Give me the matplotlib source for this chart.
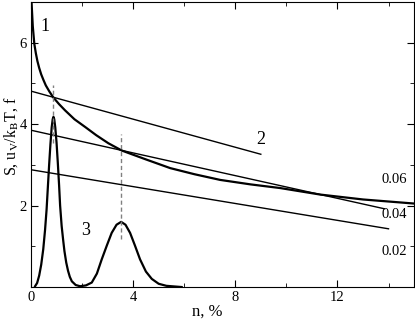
import matplotlib
matplotlib.use('Agg')
import matplotlib.pyplot as plt
from matplotlib.ticker import MultipleLocator

plt.rcParams['font.family'] = ['Liberation Serif', 'DejaVu Serif']
plt.rcParams['mathtext.fontset'] = 'stix'

# curve 1
n1 = [0.02, 0.07, 0.13, 0.19, 0.25, 0.32, 0.4, 0.49, 0.58, 0.72, 0.88, 1.1, 1.33,
      1.7, 2.12, 2.55, 3.03, 3.56, 4.47, 5.45, 6.4, 7.41, 8.6, 9.76, 11.33, 13.0, 15.0]
S1 = [7.0, 6.4, 5.97, 5.74, 5.55, 5.38, 5.22, 5.08, 4.95, 4.8, 4.65, 4.49, 4.34,
      4.12, 3.93, 3.73, 3.53, 3.35, 3.14, 2.92, 2.77, 2.63, 2.52, 2.43, 2.27, 2.15, 2.05]

# curve 3
n3 = [0.16, 0.24, 0.32, 0.4, 0.48, 0.55, 0.61, 0.66, 0.71, 0.76, 0.81, 0.85, 0.88,
      0.91, 0.95, 1.0, 1.05, 1.1, 1.14, 1.2, 1.26, 1.31, 1.38, 1.45, 1.52, 1.6,
      1.75, 1.92, 2.15, 2.38, 2.58, 2.77, 2.97, 3.16, 3.35, 3.53, 3.7, 3.88, 4.07,
      4.27, 4.5, 4.73, 5.0, 5.3, 5.9]
f3 = [0.02, 0.1, 0.28, 0.55, 0.93, 1.4, 1.9, 2.45, 3.0, 3.5, 3.92, 4.12, 4.18,
      4.12, 3.92, 3.55, 3.05, 2.5, 2.0, 1.5, 1.15, 0.88, 0.6, 0.4, 0.25, 0.14,
      0.05, 0.02, 0.04, 0.11, 0.33, 0.68, 1.02, 1.33, 1.53, 1.6, 1.53, 1.33, 1.02,
      0.68, 0.38, 0.2, 0.08, 0.03, 0.0]

# straight lines u_V/k_BT
line_n = [[0, 9.0], [0, 13.85], [0, 14.0]]
line_u = [[4.81, 3.26], [3.85, 1.92], [2.88, 1.43]]
line_tags = ['0.06', '0.04', '0.02']
tag_y = [2.65, 1.78, 0.88]

# dashed markers
dash_n = [0.88, 3.53]
dash_lo = [3.53, 1.17]
dash_hi = [4.95, 3.76]

fig = plt.figure(figsize=(4.15, 3.2), dpi=100)
ax = fig.add_axes([0.0747, 0.103, 0.923, 0.891])

ax.plot(n1, S1, color='black', lw=1.6)
ax.plot(n3, f3, color='black', lw=1.6)
for xs, ys in zip(line_n, line_u):
    ax.plot(xs, ys, color='black', lw=1.0)
for x, lo, hi in zip(dash_n, dash_lo, dash_hi):
    ax.plot([x, x], [lo, hi], color='gray', lw=1.0, ls=(0, (3, 2)))

ax.text(0.55, 6.4, '1', fontsize=13, ha='center', va='center')
ax.text(8.98, 3.61, '2', fontsize=13, ha='center', va='center')
ax.text(2.12, 1.4, '3', fontsize=13, ha='center', va='center')
for t, y in zip(line_tags, tag_y):
    ax.text(14.24, y, t, fontsize=10.5, ha='center', va='center')

ax.set_xlim(0, 15)
ax.set_ylim(0, 7)
ax.xaxis.set_major_locator(MultipleLocator(4))
ax.xaxis.set_minor_locator(MultipleLocator(2))
ax.yaxis.set_minor_locator(MultipleLocator(1))
ax.set_yticks([2, 4, 6])
ax.tick_params(which='both', direction='in', top=True, right=True, labelsize=10.5, pad=3)
ax.tick_params(which='major', length=5)
ax.tick_params(which='minor', length=3)
ax.set_xlabel('n, %', fontsize=12)
ax.xaxis.set_label_coords(0.46, -0.058)
ax.set_ylabel(r'S, u$_\mathrm{V}$/k$_\mathrm{B}$T, f', fontsize=11.5, va='top')
ax.yaxis.set_label_coords(-0.076, 0.53)

fig.savefig('out.png', dpi=100)
